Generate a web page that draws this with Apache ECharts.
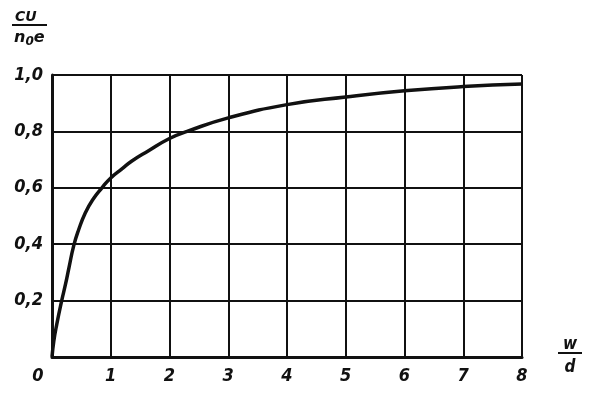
<!DOCTYPE html>
<html>
<head>
<meta charset="utf-8">
<script src="https://cdn.jsdelivr.net/npm/echarts@6/dist/echarts.min.js"></script>
<style>
html,body{margin:0;padding:0;background:#fff;}
#c{width:600px;height:398px;}
</style>
</head>
<body>
<div id="c"></div>
<script>
// Data
var xValues = [0, 0.03, 0.08, 0.165, 0.23, 0.29, 0.37, 0.455, 0.566, 0.69, 0.85, 1, 1.19, 1.36, 1.63, 2, 2.3, 3, 4, 5, 6, 7, 8];
var yValues = [0, 0.055, 0.115, 0.2, 0.258, 0.318, 0.395, 0.452, 0.511, 0.557, 0.6, 0.635, 0.667, 0.695, 0.73, 0.775, 0.8, 0.848, 0.895, 0.922, 0.944, 0.959, 0.968];
var xTicks = [0, 1, 2, 3, 4, 5, 6, 7, 8];
var yTicks = ['0,2', '0,4', '0,6', '0,8', '1,0'];
var yAxisTitleTop = 'CU';
var xAxisTitleTop = 'w';
var xAxisTitleBottom = 'd';

var ink = '#111';
var font = 'DejaVu Sans Condensed';

var points = xValues.map(function (x, i) { return [x, yValues[i]]; });

var chart = echarts.init(document.getElementById('c'), null, {renderer: 'canvas'});
chart.setOption({
  animation: false,
  backgroundColor: '#fff',
  grid: {left: 52, right: 78, top: 75, bottom: 41, containLabel: false},
  xAxis: {
    type: 'value', min: 0, max: 8, interval: 1,
    axisLine: {show: true, lineStyle: {color: ink, width: 3}},
    axisTick: {show: false},
    splitLine: {show: true, lineStyle: {color: ink, width: 2}},
    axisLabel: {
      margin: 10,
      color: ink, fontFamily: font, fontSize: 18, fontWeight: 'bold', fontStyle: 'italic',
      formatter: function (v) {
        var i = xTicks.indexOf(v);
        if (i < 0) return '';
        return v === 0 ? '{z|' + xTicks[i] + '}' : String(xTicks[i]);
      },
      rich: {z: {padding: [0, 28, 0, 0], color: ink, fontFamily: font, fontSize: 18, fontWeight: 'bold', fontStyle: 'italic'}}
    }
  },
  yAxis: {
    type: 'value', min: 0, max: 1, interval: 0.2,
    axisLine: {show: true, lineStyle: {color: ink, width: 3}},
    axisTick: {show: false},
    splitLine: {show: true, lineStyle: {color: ink, width: 2}},
    axisLabel: {
      margin: 9,
      color: ink, fontFamily: font, fontSize: 18, fontWeight: 'bold', fontStyle: 'italic',
      formatter: function (v) {
        var k = Math.round(v * 5);
        return k === 0 ? '' : yTicks[k - 1];
      }
    }
  },
  series: [{
    type: 'line',
    data: points,
    smooth: 0.5,
    showSymbol: false,
    lineStyle: {color: ink, width: 3.5},
    z: 5
  }],
  graphic: [
    {type: 'text', left: 15, top: 10, style: {text: yAxisTitleTop, fill: ink, font: 'italic bold 14px "DejaVu Sans"'}},
    {type: 'line', shape: {x1: 12, y1: 25, x2: 47, y2: 25}, style: {stroke: ink, lineWidth: 2}},
    {type: 'text', left: 14, top: 30, style: {
      text: '{n|n}{s|0}{n|e}',
      rich: {
        n: {fill: ink, fontFamily: 'DejaVu Sans', fontSize: 16, fontWeight: 'bold', fontStyle: 'italic', verticalAlign: 'top'},
        s: {fill: ink, fontFamily: 'DejaVu Sans', fontSize: 12, fontWeight: 'bold', fontStyle: 'italic', padding: [6, 0, 0, 0], verticalAlign: 'top'}
      }
    }},
    {type: 'text', x: 570, y: 345, style: {text: xAxisTitleTop, fill: ink, font: 'italic bold 17px "DejaVu Sans Condensed"', textAlign: 'center', textVerticalAlign: 'middle'}},
    {type: 'line', shape: {x1: 558, y1: 353, x2: 582, y2: 353}, style: {stroke: ink, lineWidth: 2}},
    {type: 'text', x: 570, y: 368, style: {text: xAxisTitleBottom, fill: ink, font: 'italic bold 17px "DejaVu Sans Condensed"', textAlign: 'center', textVerticalAlign: 'middle'}}
  ]
});
</script>
</body>
</html>
